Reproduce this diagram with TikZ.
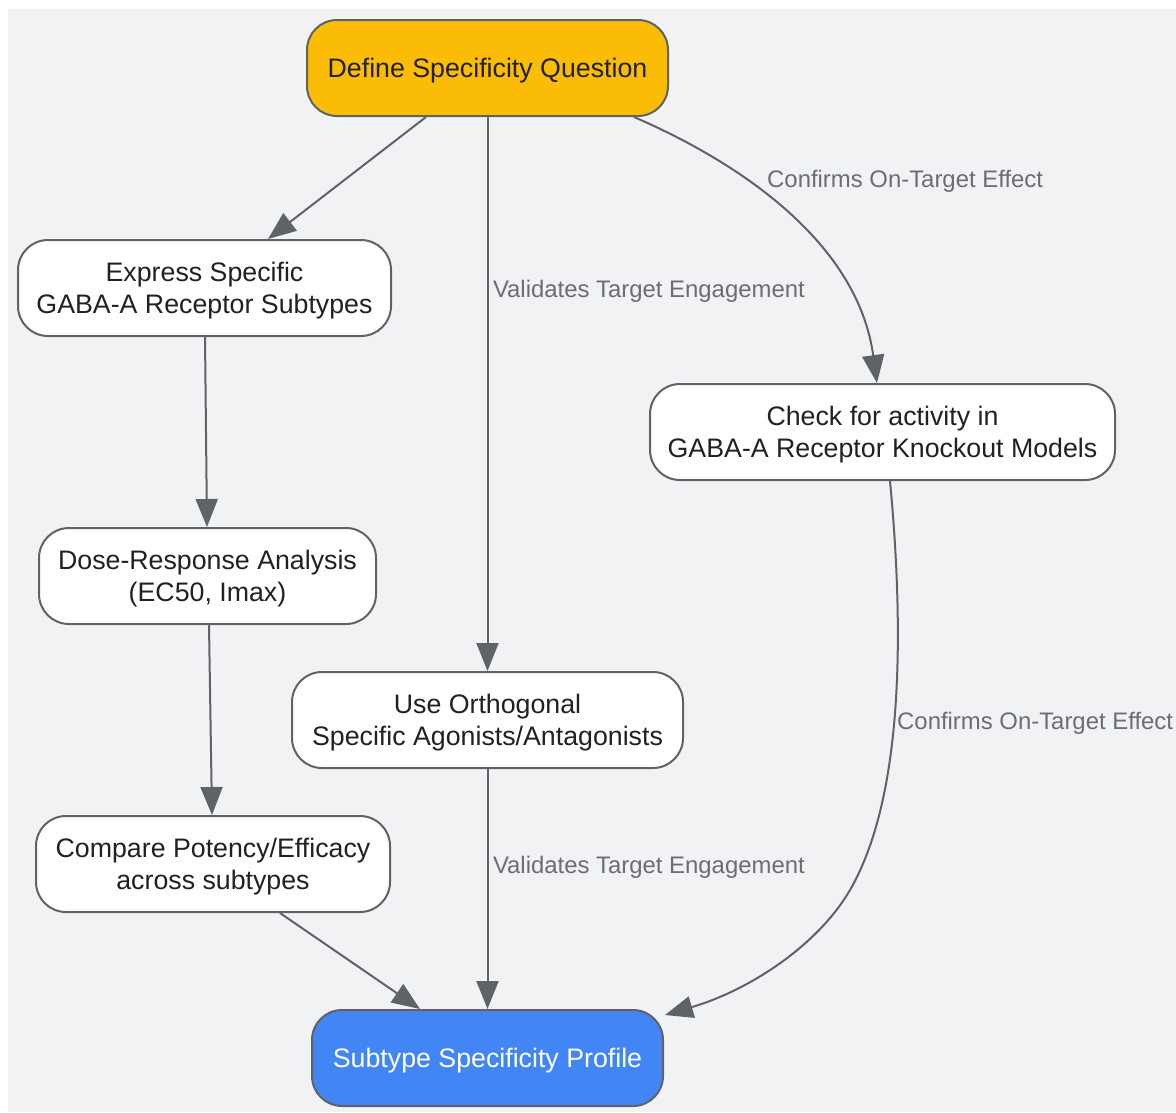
\documentclass[tikz,border=0pt]{standalone}
\usepackage{fontspec}
\setmainfont{Liberation Sans}
\usetikzlibrary{arrows.meta,calc}
\definecolor{bg}{HTML}{F1F2F4}
\definecolor{edgec}{HTML}{5F6368}
\definecolor{lblc}{HTML}{6A6E73}
\definecolor{txtc}{HTML}{202124}
\definecolor{yel}{HTML}{FBBC05}
\definecolor{blu}{HTML}{4285F4}
\tikzset{
  box/.style={draw=edgec, line width=2pt, rounded corners=30pt, fill=white, align=center,
    text=txtc, minimum height=96pt, inner sep=0pt, text depth=0pt, font=\fontsize{26.75}{32}\selectfont},
  edge/.style={draw=edgec, line width=2pt, -{Triangle[length=28pt,width=22pt]}},
  lbl/.style={text=lblc, font=\fontsize{23.9}{28}\selectfont, inner sep=0pt, anchor=west, yshift=-2pt}
}
\begin{document}
\begin{tikzpicture}[x=1pt,y=-1pt]
\useasboundingbox (0,0) rectangle (1176,1112);
\fill[bg] (8,9) rectangle (1176,1112);
\node[box, fill=yel, minimum width=361pt] (def) at (487.5,68) {Define Specificity Question};
\node[box, minimum width=373pt] (exp) at (204.5,288) {Express Specific\\GABA-A Receptor Subtypes};
\node[box, minimum width=337pt] (dose) at (207.5,576) {Dose-Response Analysis\\(EC50, Imax)};
\node[box, minimum width=354pt] (cmp) at (213,864) {Compare Potency/Efficacy\\across subtypes};
\node[box, minimum width=391pt] (use) at (487.5,720) {Use Orthogonal\\Specific Agonists/Antagonists};
\node[box, minimum width=465pt] (chk) at (882.5,432) {Check for activity in\\GABA-A Receptor Knockout Models};
\node[box, fill=blu, text=white, minimum width=351pt] (sub) at (487.5,1058) {Subtype Specificity Profile};

\draw[edge] ([xshift=-61.5pt]def.south) -- ([xshift=63.5pt]exp.north);
\draw[edge] (def.south) -- node[lbl, pos=0.311, xshift=4.5pt] {Validates Target Engagement} (use.north);
\draw[edge] ([xshift=146.5pt]def.south) .. controls (745,165) and (858,245) .. ([xshift=-5.5pt]chk.north);
\node[lbl] (l1) at (767,179) {Confirms On-Target Effect};
\draw[edge] ([xshift=0.5pt]exp.south) -- ([xshift=-0.5pt]dose.north);
\draw[edge] ([xshift=1.5pt]dose.south) -- ([xshift=-1pt]cmp.north);
\draw[edge] ([xshift=67pt]cmp.south) -- ([xshift=-67.5pt]sub.north);
\draw[edge] (use.south) -- node[lbl, pos=0.40, xshift=4.5pt] {Validates Target Engagement} (sub.north);
\draw[edge] ([xshift=7.5pt]chk.south) .. controls (905,640) and (902,800) .. (850,890) .. controls (818,945) and (750,990) .. ([xshift=177.5pt,yshift=-6pt]sub.north);
\node[lbl] (l2) at (897,721) {Confirms On-Target Effect};
\end{tikzpicture}
\end{document}
